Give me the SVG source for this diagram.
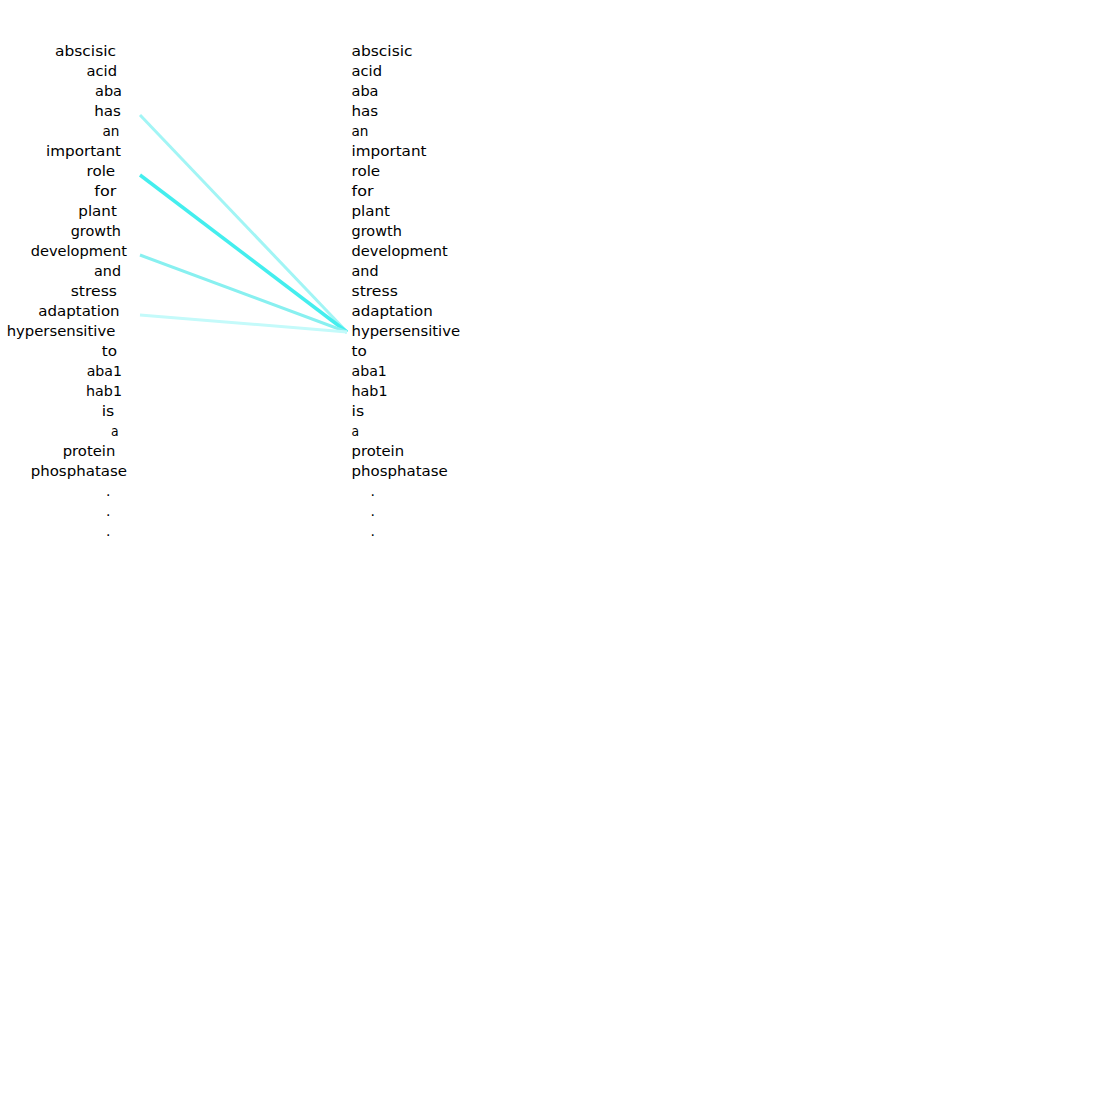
<svg xmlns="http://www.w3.org/2000/svg" width="1100" height="1100" viewBox="0 0 1100 1100">
<style>
text{font-family:"DejaVu Sans","Liberation Sans",sans-serif;font-size:14px;fill:#000;}
.c{fill:none;stroke-linecap:butt;}
</style>
<rect width="1100" height="1100" fill="#fff"/>
<g id="connectors">
<line class="c" x1="140" y1="115" x2="347" y2="332" stroke="#a2f5f5" stroke-width="3"/>
<line class="c" x1="140" y1="175" x2="347" y2="332" stroke="#44eeee" stroke-width="3.5"/>
<line class="c" x1="140" y1="255" x2="347" y2="332" stroke="#88f0f0" stroke-width="3"/>
<line class="c" x1="140" y1="315" x2="347" y2="332" stroke="#c4fafa" stroke-width="3"/>
</g>
<g id="left">
<g id="l0"><text x="55" y="56" textLength="61" lengthAdjust="spacingAndGlyphs">abscisic</text></g>
<g id="l1"><text x="86.5" y="76" textLength="30.5" lengthAdjust="spacingAndGlyphs">acid</text></g>
<g id="l2"><text x="95" y="96" textLength="27" lengthAdjust="spacingAndGlyphs">aba</text></g>
<g id="l3"><text x="94.3" y="116" textLength="26.7" lengthAdjust="spacingAndGlyphs">has</text></g>
<g id="l4"><text x="102.5" y="136" textLength="17" lengthAdjust="spacingAndGlyphs">an</text></g>
<g id="l5"><text x="46" y="156" textLength="75" lengthAdjust="spacingAndGlyphs">important</text></g>
<g id="l6"><text x="86.5" y="176" textLength="28.7" lengthAdjust="spacingAndGlyphs">role</text></g>
<g id="l7"><text x="94.3" y="196" textLength="22" lengthAdjust="spacingAndGlyphs">for</text></g>
<g id="l8"><text x="78.3" y="216" textLength="38.5" lengthAdjust="spacingAndGlyphs">plant</text></g>
<g id="l9"><text x="70.7" y="236" textLength="50.3" lengthAdjust="spacingAndGlyphs">growth</text></g>
<g id="l10"><text x="30.7" y="256" textLength="96.3" lengthAdjust="spacingAndGlyphs">development</text></g>
<g id="l11"><text x="94" y="276" textLength="27" lengthAdjust="spacingAndGlyphs">and</text></g>
<g id="l12"><text x="70.7" y="296" textLength="46.3" lengthAdjust="spacingAndGlyphs">stress</text></g>
<g id="l13"><text x="38.3" y="316" textLength="81.3" lengthAdjust="spacingAndGlyphs">adaptation</text></g>
<g id="l14"><text x="6.7" y="336" textLength="108.6" lengthAdjust="spacingAndGlyphs">hypersensitive</text></g>
<g id="l15"><text x="101.7" y="356" textLength="15.3" lengthAdjust="spacingAndGlyphs">to</text></g>
<g id="l16"><text x="86.7" y="376" textLength="35.3" lengthAdjust="spacingAndGlyphs">aba1</text></g>
<g id="l17"><text x="86" y="396" textLength="36" lengthAdjust="spacingAndGlyphs">hab1</text></g>
<g id="l18"><text x="101.7" y="416" textLength="12.6" lengthAdjust="spacingAndGlyphs">is</text></g>
<g id="l19"><text x="111" y="436" textLength="7.6" lengthAdjust="spacingAndGlyphs">a</text></g>
<g id="l20"><text x="62.7" y="456" textLength="52.6" lengthAdjust="spacingAndGlyphs">protein</text></g>
<g id="l21"><text x="30.7" y="476" textLength="96.3" lengthAdjust="spacingAndGlyphs">phosphatase</text></g>
<g id="l22"><text x="106" y="496">.</text></g>
<g id="l23"><text x="106" y="516">.</text></g>
<g id="l24"><text x="106" y="536">.</text></g>
</g>
<g id="right">
<g id="r0"><text x="351.5" y="56" textLength="61" lengthAdjust="spacingAndGlyphs">abscisic</text></g>
<g id="r1"><text x="351.5" y="76" textLength="30.5" lengthAdjust="spacingAndGlyphs">acid</text></g>
<g id="r2"><text x="351.5" y="96" textLength="27" lengthAdjust="spacingAndGlyphs">aba</text></g>
<g id="r3"><text x="351.5" y="116" textLength="26.7" lengthAdjust="spacingAndGlyphs">has</text></g>
<g id="r4"><text x="351.5" y="136" textLength="17" lengthAdjust="spacingAndGlyphs">an</text></g>
<g id="r5"><text x="351.5" y="156" textLength="75" lengthAdjust="spacingAndGlyphs">important</text></g>
<g id="r6"><text x="351.5" y="176" textLength="28.7" lengthAdjust="spacingAndGlyphs">role</text></g>
<g id="r7"><text x="351.5" y="196" textLength="22" lengthAdjust="spacingAndGlyphs">for</text></g>
<g id="r8"><text x="351.5" y="216" textLength="38.5" lengthAdjust="spacingAndGlyphs">plant</text></g>
<g id="r9"><text x="351.5" y="236" textLength="50.3" lengthAdjust="spacingAndGlyphs">growth</text></g>
<g id="r10"><text x="351.5" y="256" textLength="96.3" lengthAdjust="spacingAndGlyphs">development</text></g>
<g id="r11"><text x="351.5" y="276" textLength="27" lengthAdjust="spacingAndGlyphs">and</text></g>
<g id="r12"><text x="351.5" y="296" textLength="46.3" lengthAdjust="spacingAndGlyphs">stress</text></g>
<g id="r13"><text x="351.5" y="316" textLength="81.3" lengthAdjust="spacingAndGlyphs">adaptation</text></g>
<g id="r14"><text x="351.5" y="336" textLength="108.6" lengthAdjust="spacingAndGlyphs">hypersensitive</text></g>
<g id="r15"><text x="351.5" y="356" textLength="15.3" lengthAdjust="spacingAndGlyphs">to</text></g>
<g id="r16"><text x="351.5" y="376" textLength="35.3" lengthAdjust="spacingAndGlyphs">aba1</text></g>
<g id="r17"><text x="351.5" y="396" textLength="36" lengthAdjust="spacingAndGlyphs">hab1</text></g>
<g id="r18"><text x="351.5" y="416" textLength="12.6" lengthAdjust="spacingAndGlyphs">is</text></g>
<g id="r19"><text x="351.5" y="436" textLength="7.6" lengthAdjust="spacingAndGlyphs">a</text></g>
<g id="r20"><text x="351.5" y="456" textLength="52.6" lengthAdjust="spacingAndGlyphs">protein</text></g>
<g id="r21"><text x="351.5" y="476" textLength="96.3" lengthAdjust="spacingAndGlyphs">phosphatase</text></g>
<g id="r22"><text x="370.5" y="496">.</text></g>
<g id="r23"><text x="370.5" y="516">.</text></g>
<g id="r24"><text x="370.5" y="536">.</text></g>
</g>
</svg>
